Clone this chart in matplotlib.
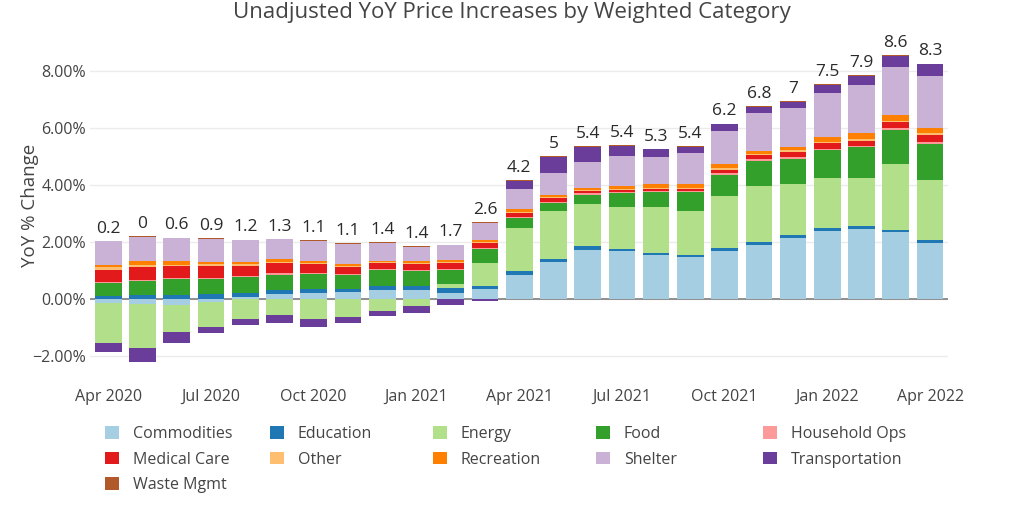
import numpy as np
import matplotlib
matplotlib.use("Agg")
import matplotlib.pyplot as plt
from matplotlib.ticker import FuncFormatter

plt.rcParams['font.family'] = ['Open Sans', 'DejaVu Sans']

months = ["Apr 2020", "May 2020", "Jun 2020", "Jul 2020", "Aug 2020", "Sep 2020",
          "Oct 2020", "Nov 2020", "Dec 2020", "Jan 2021", "Feb 2021", "Mar 2021",
          "Apr 2021", "May 2021", "Jun 2021", "Jul 2021", "Aug 2021", "Sep 2021",
          "Oct 2021", "Nov 2021", "Dec 2021", "Jan 2022", "Feb 2022", "Mar 2022",
          "Apr 2022"]

# weighted YoY contribution (%) per category
commodities = [-0.15, -0.20, -0.22, -0.10, 0.06, 0.16, 0.19, 0.23, 0.30, 0.30, 0.21, 0.33,
               0.85, 1.28, 1.72, 1.67, 1.55, 1.47, 1.69, 1.88, 2.14, 2.38, 2.45, 2.33, 1.96]
education = [0.10, 0.12, 0.12, 0.15, 0.14, 0.15, 0.16, 0.12, 0.14, 0.14, 0.15, 0.12,
             0.14, 0.13, 0.12, 0.08, 0.07, 0.08, 0.09, 0.10, 0.09, 0.09, 0.09, 0.09, 0.09]
energy = [-1.42, -1.53, -0.95, -0.88, -0.70, -0.56, -0.73, -0.66, -0.42, -0.26, 0.16, 0.82,
          1.50, 1.67, 1.50, 1.47, 1.62, 1.55, 1.84, 2.00, 1.82, 1.78, 1.70, 2.30, 2.11]
food = [0.45, 0.50, 0.56, 0.55, 0.56, 0.54, 0.53, 0.47, 0.56, 0.53, 0.48, 0.47,
        0.35, 0.27, 0.32, 0.48, 0.50, 0.65, 0.74, 0.87, 0.87, 0.97, 1.09, 1.23, 1.29]
household = [0.05, 0.04, 0.04, 0.04, 0.04, 0.04, 0.04, 0.04, 0.04, 0.04, 0.04, 0.04,
             0.04, 0.04, 0.04, 0.04, 0.04, 0.04, 0.05, 0.05, 0.05, 0.05, 0.05, 0.05, 0.05]
medical = [0.42, 0.46, 0.43, 0.42, 0.36, 0.36, 0.29, 0.24, 0.20, 0.22, 0.21, 0.18,
           0.14, 0.14, 0.10, 0.07, 0.08, 0.06, 0.12, 0.14, 0.20, 0.19, 0.18, 0.21, 0.26]
other = [0.08, 0.05, 0.05, 0.05, 0.06, 0.05, 0.05, 0.05, 0.04, 0.04, 0.04, 0.04,
         0.04, 0.04, 0.04, 0.05, 0.05, 0.05, 0.05, 0.05, 0.05, 0.05, 0.05, 0.05, 0.05]
recreation = [0.07, 0.14, 0.12, 0.08, 0.08, 0.10, 0.08, 0.08, 0.06, 0.04, 0.07, 0.08,
              0.08, 0.06, 0.06, 0.12, 0.12, 0.12, 0.15, 0.12, 0.12, 0.18, 0.20, 0.20, 0.21]
shelter = [0.85, 0.85, 0.81, 0.81, 0.76, 0.69, 0.70, 0.70, 0.62, 0.52, 0.52, 0.58,
           0.72, 0.80, 0.90, 1.05, 0.96, 1.09, 1.17, 1.33, 1.38, 1.55, 1.70, 1.68, 1.80]
transportation = [-0.30, -0.49, -0.39, -0.24, -0.23, -0.29, -0.27, -0.20, -0.20, -0.23, -0.21, -0.08,
                  0.29, 0.56, 0.55, 0.35, 0.26, 0.23, 0.23, 0.21, 0.21, 0.27, 0.33, 0.39, 0.42]
waste = [0.02, 0.03, 0.02, 0.02, 0.02, 0.02, 0.02, 0.02, 0.02, 0.02, 0.02, 0.02,
         0.02, 0.02, 0.02, 0.02, 0.02, 0.02, 0.03, 0.03, 0.03, 0.03, 0.03, 0.03, 0.03]

categories = ["Commodities", "Education", "Energy", "Food", "Household Ops", "Medical Care",
              "Other", "Recreation", "Shelter", "Transportation", "Waste Mgmt"]
series = [commodities, education, energy, food, household, medical,
          other, recreation, shelter, transportation, waste]
colors = ["#a6cee3", "#1f78b4", "#b2df8a", "#33a02c", "#fb9a99", "#e31a1c",
          "#fdbf6f", "#ff7f00", "#cab2d6", "#6a3d9a", "#b15928"]

text_col = "#444444"
x = np.arange(len(months))

fig = plt.figure(figsize=(10.24, 5.12), dpi=100)
ax = fig.add_axes([0.088, 0.275, 0.838, 0.647])

# relative stacking: positives up, negatives down
pos_base = np.zeros(len(x))
neg_base = np.zeros(len(x))
handles = []
for name, vals, c in zip(categories, series, colors):
    v = np.array(vals)
    base = np.where(v >= 0, pos_base, neg_base)
    b = ax.bar(x, v, 0.78, bottom=base, color=c, label=name, linewidth=0, zorder=3)
    handles.append(b)
    pos_base = pos_base + np.where(v >= 0, v, 0)
    neg_base = neg_base + np.where(v < 0, v, 0)

totals = pos_base + neg_base
for xi, top, t in zip(x, pos_base, totals):
    r = round(t + 1e-9, 1)
    if r == 0:
        r = 0.0
    ax.annotate(f"{abs(r) if r == 0 else r:g}", (xi, top), xytext=(0, 3),
                textcoords="offset points", ha="center", va="bottom",
                fontsize=12.5, color="#2a2a2a")

ax.set_xlim(-0.53, 24.53)
ax.set_ylim(-2.55, 9.1)
ax.set_yticks([-2, 0, 2, 4, 6, 8])
ax.yaxis.set_major_formatter(FuncFormatter(lambda v, p: f"{v:.2f}%".replace("-", "\u2212")))
ax.set_xticks(x[::3])
ax.set_xticklabels(months[::3])
ax.tick_params(length=0, labelsize=11.5, labelcolor=text_col, pad=3)
ax.tick_params(axis="x", pad=13)
ax.grid(axis="y", color="#ebebeb", linewidth=1, zorder=0)
ax.axhline(0, color="#7f7f7f", linewidth=1.2, zorder=2)
for s in ax.spines.values():
    s.set_visible(False)
ax.set_ylabel("YoY % Change", fontsize=13.5, color=text_col)
ax.yaxis.set_label_coords(-0.060, 0.5)

fig.text(0.5, 1 - 18 / 512, "Unadjusted YoY Price Increases by Weighted Category",
         ha="center", va="baseline", fontsize=16, color=text_col)

# legend: 5 columns laid out row by row
col_x = [105, 270, 433, 596, 763]
for ci, cx in enumerate(col_x):
    idx = list(range(ci, len(categories), 5))
    leg = fig.legend([handles[i] for i in idx], [categories[i] for i in idx],
                     loc="upper left", bbox_to_anchor=(cx / 1024, 1 - 426 / 512),
                     frameon=False, fontsize=11.5, handlelength=0.85, handleheight=0.85,
                     handletextpad=0.9, labelspacing=0.6, borderpad=0, borderaxespad=0,
                     labelcolor=text_col)

fig.savefig("out.png", dpi=100)
